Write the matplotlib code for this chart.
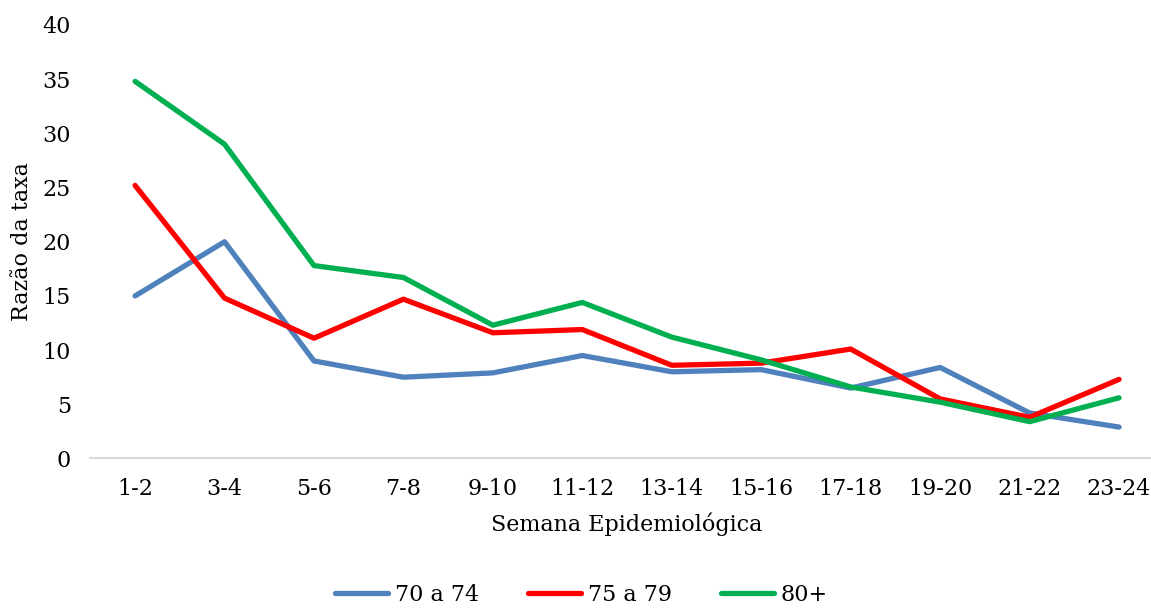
import matplotlib.pyplot as plt

semanas = ["1-2", "3-4", "5-6", "7-8", "9-10", "11-12", "13-14", "15-16",
           "17-18", "19-20", "21-22", "23-24"]
idade_70_74 = [15.0, 20.0, 9.0, 7.5, 7.9, 9.5, 8.0, 8.2, 6.5, 8.4, 4.2, 2.9]
idade_75_79 = [25.2, 14.8, 11.1, 14.7, 11.6, 11.9, 8.6, 8.8, 10.1, 5.5, 3.8, 7.3]
idade_80 = [34.8, 29.0, 17.8, 16.7, 12.3, 14.4, 11.2, 9.1, 6.6, 5.2, 3.4, 5.6]
y_ticks = [0, 5, 10, 15, 20, 25, 30, 35, 40]

plt.rcParams['font.family'] = ['DejaVu Serif']

fig = plt.figure(figsize=(11.51, 6.08), dpi=100)
ax = fig.add_axes([0.0785, 0.2459, 0.9326, 0.713])

x = list(range(len(semanas)))
ax.plot(x, idade_70_74, color="#4F81BD", linewidth=3.8, label="70 a 74", solid_capstyle="round")
ax.plot(x, idade_75_79, color="#FF0000", linewidth=3.8, label="75 a 79", solid_capstyle="round")
ax.plot(x, idade_80, color="#00B050", linewidth=3.8, label="80+", solid_capstyle="round")

ax.set_xlim(-0.5, len(semanas) - 0.5)
ax.set_ylim(0, 40)
ax.set_xticks(x)
ax.set_xticklabels(semanas)
ax.set_yticks(y_ticks)
ax.tick_params(axis="both", length=0, labelsize=16, colors="black")
ax.tick_params(axis="x", pad=14)
ax.tick_params(axis="y", pad=14)

for side in ["top", "right", "left"]:
    ax.spines[side].set_visible(False)
ax.spines["bottom"].set_color("#D9D9D9")
ax.spines["bottom"].set_linewidth(1.5)

ax.set_xlabel("Semana Epidemiológica", fontsize=16, labelpad=9)
ax.set_ylabel("Razão da taxa", fontsize=16, labelpad=7)

fig.legend(loc="center", bbox_to_anchor=(0.505, 0.021), ncol=3, frameon=False,
           fontsize=16, handlelength=2.4, handletextpad=0.3, columnspacing=2.2)

plt.savefig("out.png", dpi=100)
plt.close()
